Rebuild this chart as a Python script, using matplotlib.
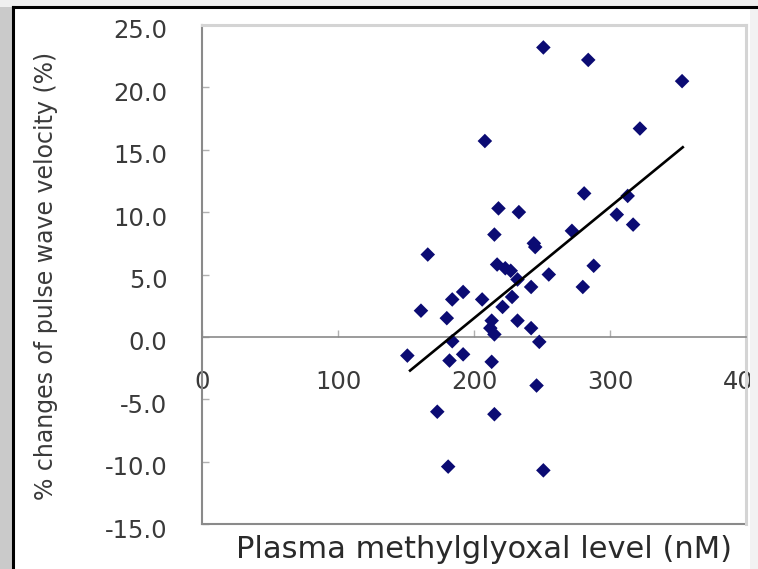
import matplotlib.pyplot as plt
import matplotlib.transforms as mtransforms
from matplotlib.patches import Rectangle
from matplotlib.lines import Line2D

# values
mg_level = [251, 284, 353, 322, 208, 281, 313, 218, 233, 305, 317, 272, 215, 166,
            244, 245, 217, 223, 227, 288, 255, 232, 242, 280, 228, 192, 184, 206,
            221, 161, 180, 213, 232, 212, 242, 215, 248, 184, 151, 192, 182, 213,
            246, 173, 215, 181, 251]
pwv_change = [23.2, 22.2, 20.5, 16.7, 15.7, 11.5, 11.3, 10.3, 10.0, 9.8, 9.0, 8.5,
              8.2, 6.6, 7.5, 7.2, 5.8, 5.5, 5.3, 5.7, 5.0, 4.6, 4.0, 4.0, 3.2, 3.6,
              3.0, 3.0, 2.4, 2.1, 1.5, 1.3, 1.3, 0.7, 0.7, 0.2, -0.4, -0.35, -1.5,
              -1.4, -1.9, -2.0, -3.9, -6.0, -6.2, -10.4, -10.7]
fit_x = [153, 353.5]
fit_y = [-2.7, 15.2]

x_ticks = [0, 100, 200, 300, 400]
y_ticks = [-15, -10, -5, 0, 5, 10, 15, 20, 25]

plt.rcParams["font.family"] = "DejaVu Sans"

W, H = 758, 569
fig = plt.figure(figsize=(W / 100, H / 100), dpi=100)
fig.patch.set_facecolor("white")

ax = fig.add_axes([202 / W, 1 - 524 / H, 544 / W, 499 / H])
ax.set_xlim(0, 400)
ax.set_ylim(-15, 25)

ax.scatter(mg_level, pwv_change, marker="D", s=55, color="#0b0b73",
           edgecolors="none", zorder=3)
ax.plot(fit_x, fit_y, color="black", linewidth=1.9, zorder=4)

# axis lines: x axis crosses at zero, plot area has its own border
ax.spines["bottom"].set_position(("data", 0))
ax.spines["bottom"].set_color("#8a8a8a")
ax.spines["bottom"].set_linewidth(1.2)
ax.spines["left"].set_color("#8a8a8a")
ax.spines["left"].set_linewidth(1.5)
for side in ["top", "right"]:
    ax.spines[side].set_color("#d4d4d4")
    ax.spines[side].set_linewidth(2.2)
ax.add_line(Line2D([0, 1], [0, 0], transform=ax.transAxes, color="#8a8a8a",
                   linewidth=1.5, clip_on=False))

ax.set_xticks(x_ticks)
ax.set_xticklabels([str(t) for t in x_ticks])
ax.set_yticks(y_ticks)
ax.set_yticklabels(["{:.1f}".format(t) for t in y_ticks])
ax.tick_params(axis="both", direction="in", length=5, width=1, color="#b0b0b0",
               labelsize=17.5, labelcolor="#3a3a3a")
ax.tick_params(axis="y", pad=25)
ax.tick_params(axis="x", pad=24)

# y tick labels sit a little below their ticks in the original
shift = mtransforms.ScaledTranslation(0, -4 / 100, fig.dpi_scale_trans)
for lab in ax.get_yticklabels():
    lab.set_transform(lab.get_transform() + shift)

fig.text(46 / W, 1 - 276 / H, "% changes of pulse wave velocity (%)", rotation=90,
         ha="center", va="center", fontsize=17, color="#3a3a3a")
fig.text(484 / W, 1 - 550 / H, "Plasma methylglyoxal level (nM)",
         ha="center", va="center", fontsize=22, color="#2a2a2a")

# slide frame around the chart image
fig.patches.append(Rectangle((0, 0), 13 / W, 1, transform=fig.transFigure,
                             facecolor="#cacaca", edgecolor="none", zorder=10))
fig.patches.append(Rectangle((0, 1 - 7 / H), 1, 7 / H, transform=fig.transFigure,
                             facecolor="#efefef", edgecolor="none", zorder=10))
fig.patches.append(Rectangle((750 / W, 0), 8 / W, 1 - 7 / H, transform=fig.transFigure,
                             facecolor="#f2f2f2", edgecolor="none", zorder=10))
fig.lines.append(Line2D([13 / W, 13 / W], [0, 1 - 7 / H], transform=fig.transFigure,
                        color="black", linewidth=2.2, zorder=11))
fig.lines.append(Line2D([13 / W, 1], [1 - 7 / H, 1 - 7 / H], transform=fig.transFigure,
                        color="black", linewidth=2.2, zorder=11))

fig.savefig("out.png", dpi=100)
